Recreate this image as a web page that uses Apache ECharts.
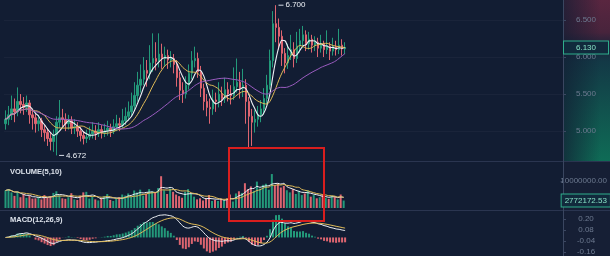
<!DOCTYPE html>
<html><head><meta charset="utf-8">
<script src="https://cdn.jsdelivr.net/npm/echarts@6/dist/echarts.min.js"></script>
<style>html,body{margin:0;padding:0;background:#ffffff;overflow:hidden}#c{width:610px;height:256px}</style>
</head><body><div id="c"></div>
<script>
const opens = [5.10,5.16,5.22,5.30,5.26,5.40,5.36,5.32,5.38,5.22,
5.18,5.10,5.14,5.02,4.98,4.90,4.86,4.95,5.12,5.18,
5.16,5.10,5.14,5.04,5.06,5.00,4.94,4.90,4.92,4.96,
5.00,4.97,5.02,4.98,5.00,5.04,5.00,5.06,5.10,5.08,
5.14,5.20,5.26,5.34,5.48,5.62,5.70,5.82,5.78,5.92,
5.98,5.94,6.04,5.98,6.02,5.96,5.98,5.90,5.72,5.55,
5.50,5.62,5.78,5.95,5.98,5.80,5.58,5.40,5.32,5.30,
5.42,5.40,5.50,5.44,5.56,5.50,5.48,5.60,5.66,5.58,
5.62,5.40,5.20,5.12,5.16,5.22,5.30,5.44,5.62,5.95,
6.45,6.40,6.28,6.05,5.92,6.02,6.10,5.98,6.15,6.22,
6.30,6.18,6.24,6.16,6.20,6.12,6.18,6.10,6.15,6.08,
6.14,6.10,6.16,6.11];
const closes = [5.16,5.22,5.30,5.26,5.40,5.36,5.32,5.38,5.22,5.18,
5.10,5.14,5.02,4.98,4.90,4.86,4.95,5.12,5.18,5.16,
5.10,5.14,5.04,5.06,5.00,4.94,4.90,4.92,4.96,5.00,
4.97,5.02,4.98,5.00,5.04,5.00,5.06,5.10,5.08,5.14,
5.20,5.26,5.34,5.48,5.62,5.70,5.82,5.78,5.92,5.98,
5.94,6.04,5.98,6.02,5.96,5.98,5.90,5.72,5.55,5.50,
5.62,5.78,5.95,5.98,5.80,5.58,5.40,5.32,5.30,5.42,
5.40,5.50,5.44,5.56,5.50,5.48,5.60,5.66,5.58,5.62,
5.40,5.20,5.12,5.16,5.22,5.30,5.44,5.62,5.95,6.45,
6.40,6.28,6.05,5.92,6.02,6.10,5.98,6.15,6.22,6.30,
6.18,6.24,6.16,6.20,6.12,6.18,6.10,6.15,6.08,6.14,
6.10,6.16,6.11,6.13];
const highs = [5.28,5.34,5.48,5.44,5.59,5.50,5.46,5.48,5.42,5.30,
5.24,5.22,5.18,5.08,5.04,4.98,5.02,5.20,5.42,5.30,
5.24,5.22,5.20,5.16,5.12,5.06,5.00,5.02,5.06,5.12,
5.08,5.12,5.08,5.10,5.14,5.10,5.16,5.22,5.18,5.30,
5.32,5.40,5.52,5.66,5.80,5.90,6.00,5.96,6.16,6.32,
6.20,6.32,6.18,6.14,6.10,6.08,6.04,5.96,5.80,5.66,
5.74,5.90,6.08,6.14,6.06,5.88,5.64,5.50,5.44,5.56,
5.52,5.66,5.60,5.72,5.66,5.62,5.86,5.98,5.80,5.84,
5.70,5.46,5.30,5.28,5.34,5.42,5.58,5.76,6.10,6.62,
6.70,6.52,6.36,6.12,6.18,6.30,6.20,6.34,6.38,6.42,
6.36,6.34,6.30,6.28,6.26,6.30,6.22,6.36,6.20,6.26,
6.22,6.38,6.24,6.20];
const lows = [5.02,5.08,5.15,5.12,5.20,5.24,5.22,5.26,5.10,5.02,
4.98,5.00,4.92,4.86,4.80,4.74,4.72,4.672,5.04,5.06,
5.00,5.02,4.96,4.96,4.92,4.86,4.82,4.84,4.88,4.90,
4.88,4.92,4.90,4.92,4.94,4.92,4.96,5.00,5.00,5.04,
5.08,5.14,5.20,5.28,5.40,5.52,5.62,5.60,5.70,5.80,
5.82,5.86,5.84,5.88,5.84,5.86,5.78,5.60,5.42,5.38,
5.44,5.56,5.70,5.86,5.72,5.46,5.28,5.20,5.10,5.22,
5.26,5.32,5.34,5.38,5.40,5.36,5.42,5.52,5.44,5.46,
5.10,4.78,4.80,4.98,5.06,5.12,5.22,5.36,5.56,5.86,
6.20,6.10,5.88,5.78,5.84,5.96,5.86,5.92,6.06,6.12,
6.08,6.10,6.06,6.08,6.00,6.06,6.00,6.04,5.96,6.02,
6.02,6.04,6.02,6.04];
// volume in millions
const volumes = [6.5,7.0,5.8,4.5,6.0,4.0,5.2,3.8,4.6,3.5,
3.6,4.2,3.2,4.8,3.9,4.4,5.6,6.2,4.8,3.6,
3.4,4.0,5.5,3.2,3.0,4.6,5.8,6.0,3.5,4.2,
3.2,2.8,3.6,4.4,5.2,3.0,2.6,3.4,4.0,5.0,
4.6,5.4,4.2,6.5,5.8,6.8,4.6,5.2,7.0,6.2,
5.8,7.4,11.8,6.6,5.2,7.2,6.0,5.0,4.4,3.8,
6.0,7.0,5.4,4.2,3.2,3.6,2.8,3.4,4.8,2.6,
3.0,2.6,3.4,2.8,3.6,5.0,2.4,5.4,6.2,5.6,
9.2,7.0,8.0,6.4,9.8,7.2,8.6,9.0,6.8,12.6,
8.4,9.0,7.6,8.2,6.6,5.8,7.0,5.2,6.4,4.8,
5.4,6.6,4.2,4.8,3.6,4.0,5.0,3.8,3.4,4.6,
4.2,3.2,5.0,2.77217253];
const priceTicks = [5.0, 5.5, 6.0, 6.5];
const volumeTicks = [10];
const macdTicks = [-0.16, -0.04, 0.08, 0.20];
const totalSlots = 186;

const UP = '#23997a', DOWN = '#dd6570';
const BG = '#121d33';
const LABEL = '#6d7a90';

function ma(arr, n) {
  return arr.map((_, i) => {
    const s = Math.max(0, i - n + 1); let sum = 0;
    for (let k = s; k <= i; k++) sum += arr[k];
    return +(sum / (i - s + 1)).toFixed(5);
  });
}
function ema(arr, n) {
  const k = 2 / (n + 1); let prev = arr[0];
  return arr.map((v, i) => { prev = i === 0 ? v : v * k + prev * (1 - k); return prev; });
}
const cats = Array.from({length: totalSlots}, (_, i) => String(i));
const candle = opens.map((o, i) => [o, closes[i], lows[i], highs[i]]);
const ema12 = ema(closes, 12), ema26 = ema(closes, 26);
const dif = ema12.map((v, i) => +(v - ema26[i]).toFixed(5));
const dea = ema(dif, 9).map(v => +v.toFixed(5));
const hist = dif.map((v, i) => +(2 * (v - dea[i])).toFixed(5));
const volData = volumes.map((v, i) => ({value: v, itemStyle: {color: closes[i] >= opens[i] ? UP : DOWN}}));
const histData = hist.map(v => ({value: v, itemStyle: {color: v >= 0 ? UP : DOWN}}));
const lastClose = closes[closes.length - 1];
const lastVol = volumes[volumes.length - 1];

const chart = echarts.init(document.getElementById('c'), null, {renderer: 'canvas'});
const font = 'Arial, "Liberation Sans", sans-serif';
const grids = [
  {left: 4, right: 47, top: 0, height: 160},
  {left: 4, right: 47, top: 163, height: 45},
  {left: 4, right: 47, top: 212, height: 44}
];
function xa(g) { return {type: 'category', gridIndex: g, data: cats, show: false, boundaryGap: true}; }
function ya(g, min, max, ticks, fmt, split) {
  return {type: 'value', gridIndex: g, position: 'right', min: min, max: max,
    axisLine: {show: false},
    axisTick: {show: true, length: 3, customValues: ticks, lineStyle: {color: '#3c4862'}},
    axisLabel: {show: true, customValues: ticks, formatter: fmt, align: 'center', margin: 23,
      color: LABEL, fontSize: 8, fontFamily: font},
    splitLine: {show: split, lineStyle: {color: 'rgba(255,255,255,0.035)'}}};
}
const lineS = (name, data, color, xi, w) => ({name: name, type: 'line', xAxisIndex: xi, yAxisIndex: xi,
  data: data, showSymbol: false, smooth: 0.3, lineStyle: {color: color, width: w || 1}, z: 3, silent: true});
const boxLabel = (text, pad) => ({show: true, position: 'end', distance: 1, formatter: text, color: '#86e0c4',
  fontSize: 8, fontFamily: font, backgroundColor: '#112a3c', borderColor: '#2fae8c', borderWidth: 1, padding: pad});

chart.setOption({
  backgroundColor: BG,
  animation: false,
  textStyle: {fontFamily: font},
  title: [
    {text: 'VOLUME(5,10)', left: 5, top: 163, textStyle: {color: '#dde3ec', fontSize: 7.5, fontWeight: 'bold', fontFamily: font}},
    {text: 'MACD(12,26,9)', left: 5, top: 211, textStyle: {color: '#dde3ec', fontSize: 7.5, fontWeight: 'bold', fontFamily: font}}
  ],
  grid: grids,
  xAxis: [xa(0), xa(1), xa(2)],
  yAxis: [
    ya(0, 4.61, 6.77, priceTicks, v => v.toFixed(3), true),
    ya(1, 0, 16.7, volumeTicks, v => (v * 1e6).toFixed(2), false),
    ya(2, -0.18, 0.28, macdTicks, v => v.toFixed(2), false)
  ],
  graphic: [
    {type: 'rect', z: -5, shape: {x: 564, y: 0, width: 46, height: 161},
      style: {fill: new echarts.graphic.LinearGradient(0, 0, 0, 1, [
        {offset: 0, color: '#5a2640'}, {offset: 0.2, color: '#48243c'}, {offset: 0.29, color: '#1a2239'},
        {offset: 0.38, color: '#133946'}, {offset: 1, color: '#0f6c56'}])}},
    {type: 'rect', z: -4, shape: {x: 564, y: 0, width: 46, height: 161},
      style: {fill: new echarts.graphic.LinearGradient(0, 0, 1, 0, [
        {offset: 0, color: 'rgba(18,29,51,0.7)'}, {offset: 0.8, color: 'rgba(18,29,51,0)'}])}},
    {type: 'rect', z: -5, shape: {x: 564, y: 162, width: 46, height: 94}, style: {fill: '#161f35'}},
    {type: 'line', z: 1, shape: {x1: 0, y1: 161.5, x2: 610, y2: 161.5}, style: {stroke: '#2a3550', lineWidth: 1}},
    {type: 'line', z: 1, shape: {x1: 0, y1: 210.5, x2: 610, y2: 210.5}, style: {stroke: '#2a3550', lineWidth: 1}},
    {type: 'line', z: 1, shape: {x1: 563.5, y1: 0, x2: 563.5, y2: 256}, style: {stroke: '#3a4660', lineWidth: 1}},
    {type: 'rect', z: 100, shape: {x: 229, y: 148, width: 95, height: 73},
      style: {fill: 'none', stroke: '#d81e1e', lineWidth: 2}}
  ],
  series: [
    {name: 'K', type: 'candlestick', xAxisIndex: 0, yAxisIndex: 0, data: candle, barWidth: 2,
      itemStyle: {color: UP, color0: DOWN, borderColor: UP, borderColor0: DOWN, borderWidth: 1},
      markPoint: {
        symbol: 'rect', symbolSize: [5, 1], symbolOffset: [5, 0], silent: true,
        itemStyle: {color: '#d6dce6'},
        label: {show: true, position: 'right', distance: 2, color: '#eef2f7', fontSize: 8, fontFamily: font,
          formatter: p => Number(p.value).toFixed(3)},
        data: [{type: 'max', valueDim: 'highest', name: 'max'}, {type: 'min', valueDim: 'lowest', name: 'min'}]
      },
      markLine: {
        silent: true, symbol: 'none', lineStyle: {width: 0, color: 'rgba(0,0,0,0)'},
        label: boxLabel(lastClose.toFixed(3), [2, 12]),
        data: [{yAxis: lastClose}]
      }
    },
    lineS('MA5', ma(closes, 5), '#eef2f6', 0, 1.1),
    lineS('MA10', ma(closes, 10), '#e0bb58', 0, 1),
    lineS('MA30', ma(closes, 30), '#9a5cc0', 0, 1),
    {name: 'VOL', type: 'bar', xAxisIndex: 1, yAxisIndex: 1, data: volData, barWidth: 2,
      markLine: {
        silent: true, symbol: 'none', lineStyle: {width: 0, color: 'rgba(0,0,0,0)'},
        label: boxLabel((lastVol * 1e6).toFixed(2), [2, 3]),
        data: [{yAxis: lastVol}]
      }},
    lineS('VMA5', ma(volumes, 5), '#eef2f6', 1, 1),
    lineS('VMA10', ma(volumes, 10), '#e0bb58', 1, 1),
    {name: 'MACD', type: 'bar', xAxisIndex: 2, yAxisIndex: 2, data: histData, barWidth: 2},
    lineS('DIF', dif, '#eef2f6', 2, 1),
    lineS('DEA', dea, '#e0bb58', 2, 1)
  ]
});
</script></body></html>
